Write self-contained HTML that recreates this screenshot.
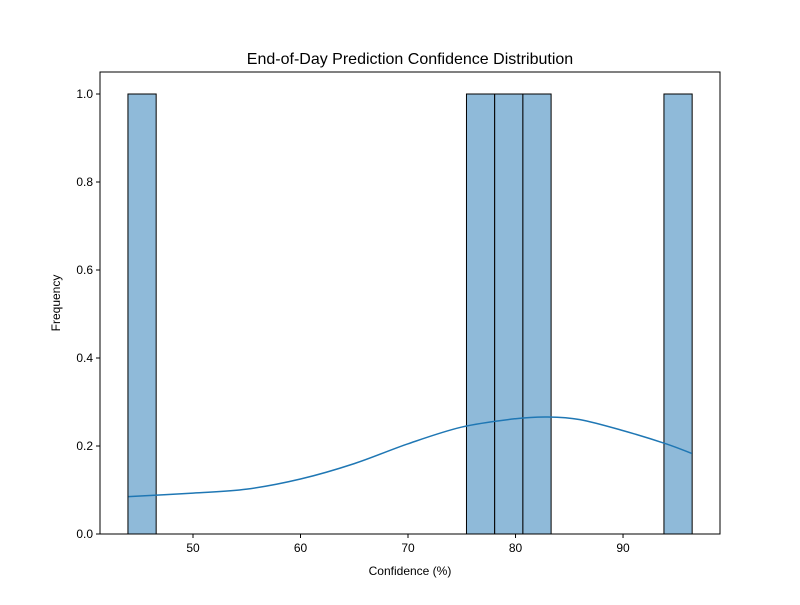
<!DOCTYPE html>
<html><head><meta charset="utf-8"><style>
body{margin:0;background:#fff;font-family:"Liberation Sans","DejaVu Sans",sans-serif}
</style></head><body>
<svg width="800" height="600" xmlns="http://www.w3.org/2000/svg" id="chart">
<rect width="800" height="600" fill="#fff"/>
<text x="410" y="64" font-size="16" text-anchor="middle">End-of-Day Prediction Confidence Distribution</text>
<g id="bars"></g>
<g id="kde"></g>
<g id="axes"></g>
<text x="410" y="575" font-size="12" text-anchor="middle">Confidence (%)</text>
<text x="60" y="303" font-size="12" text-anchor="middle" transform="rotate(-90 60 303)">Frequency</text>
</svg>
<script>
const binStart = 43.95;
const binWidth = 2.624;
const binIndices = [0, 12, 13, 14, 19];
const counts = [1, 1, 1, 1, 1];
const kdeX = [44, 50, 55, 60, 65, 70, 75, 80, 83, 86, 90, 94, 96.4];
const kdeY = [0.085, 0.093, 0.102, 0.125, 0.16, 0.205, 0.243, 0.262, 0.266, 0.26, 0.235, 0.205, 0.183];
const xTicks = [50, 60, 70, 80, 90];
const yTicks = [0.0, 0.2, 0.4, 0.6, 0.8, 1.0];
const L=100,R=720,T=72,B=534;
const xmin=41.35,xmax=99.02,ymin=0,ymax=1.05;
const sx=v=>L+(v-xmin)/(xmax-xmin)*(R-L);
const sy=v=>B-(v-ymin)/(ymax-ymin)*(B-T);
const NS="http://www.w3.org/2000/svg";
function mk(t,a,p){const e=document.createElementNS(NS,t);for(const k in a)e.setAttribute(k,a[k]);p.appendChild(e);return e;}
const bars=document.getElementById('bars');
binIndices.forEach((b,i)=>{
  const x0=sx(binStart+b*binWidth),x1=sx(binStart+(b+1)*binWidth);
  const r=mk('rect',{x:x0,y:sy(counts[i]),width:x1-x0,height:sy(0)-sy(counts[i]),fill:'#8fbad9',stroke:'#000','stroke-width':1},bars);
  
  
});
const kde=document.getElementById('kde');
const P=kdeX.map((x,i)=>[sx(x),sy(kdeY[i])]);
let d='M'+P[0][0]+','+P[0][1];
for(let i=0;i<P.length-1;i++){
  const p0=P[Math.max(0,i-1)],p1=P[i],p2=P[i+1],p3=P[Math.min(P.length-1,i+2)];
  const c1=[p1[0]+(p2[0]-p0[0])/6,p1[1]+(p2[1]-p0[1])/6];
  const c2=[p2[0]-(p3[0]-p1[0])/6,p2[1]-(p3[1]-p1[1])/6];
  d+=' C'+c1+' '+c2+' '+p2;
}
const pl=mk('path',{d:d,fill:'none',stroke:'#1f77b4','stroke-width':1.5},kde);


const ax=document.getElementById('axes');
const fr=mk('rect',{x:L,y:T,width:R-L,height:B-T,fill:'none',stroke:'#000','stroke-width':1},ax);


xTicks.forEach(v=>{
  mk('line',{x1:sx(v),x2:sx(v),y1:B,y2:B+4,stroke:'#000'},ax);
  const t=mk('text',{x:sx(v),y:B+18,'font-size':12,'text-anchor':'middle'},ax);t.textContent=v;
  
  
});
yTicks.forEach(v=>{
  mk('line',{x1:L-4,x2:L,y1:sy(v),y2:sy(v),stroke:'#000'},ax);
  const t=mk('text',{x:L-7,y:sy(v)+4,'font-size':12,'text-anchor':'end'},ax);t.textContent=v.toFixed(1);
  
  
});
</script>
</body></html>
